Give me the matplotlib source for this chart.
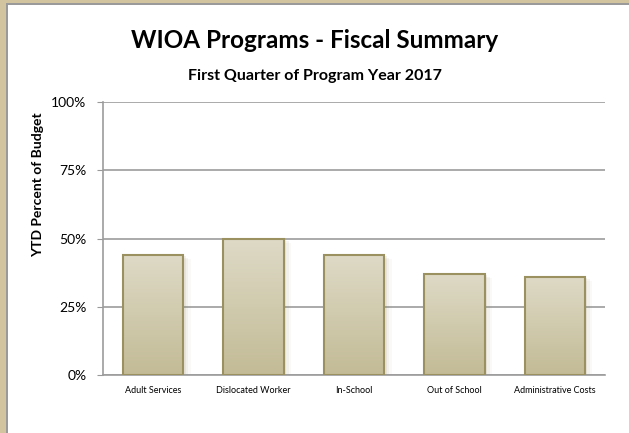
import numpy as np
import matplotlib.pyplot as plt
from matplotlib.patches import Rectangle
from matplotlib.colors import LinearSegmentedColormap

# Chart data
programs = ['Adult Services', 'Dislocated Worker', 'In-School', 'Out of School', 'Administrative Costs']
pct_budget = [44, 50, 44, 37, 36]
y_ticks = [0, 25, 50, 75, 100]

plt.rcParams['font.family'] = ['Lato', 'DejaVu Sans']

fig = plt.figure(figsize=(6.29, 4.33), dpi=100)
fig.patch.set_facecolor('white')

# tan frame on the left and top edges
fig.patches.append(Rectangle((0, 0), 6 / 629, 1, transform=fig.transFigure,
                             facecolor='#d3c4a0', edgecolor='none', zorder=0))
fig.patches.append(Rectangle((0, 1 - 3 / 433), 1, 3 / 433, transform=fig.transFigure,
                             facecolor='#d3c4a0', edgecolor='none', zorder=0))
fig.patches.append(Rectangle((6 / 629, 0), 1.5 / 629, 1 - 3 / 433, transform=fig.transFigure,
                             facecolor='#9a9a9a', edgecolor='none', zorder=0))
fig.patches.append(Rectangle((6 / 629, 1 - 4.5 / 433), 1, 1.5 / 433, transform=fig.transFigure,
                             facecolor='#9a9a9a', edgecolor='none', zorder=0))

ax = fig.add_axes([103 / 629, 58 / 433, 502 / 629, 273 / 433])

x = np.arange(len(programs))
bars = ax.bar(x, pct_budget, width=0.6, facecolor='none', edgecolor='#9b9060',
              linewidth=1.5, zorder=3)

# gradient fill inside each bar, plus a soft shadow
cmap = LinearSegmentedColormap.from_list('tan', ['#c3bb96', '#dedac6'])
grad = np.linspace(0, 1, 256).reshape(-1, 1)
for b in bars:
    x0, y0 = b.get_x(), b.get_y()
    w, h = b.get_width(), b.get_height()
    for i, a in enumerate([0.10, 0.07, 0.04]):
        off = 0.025 * (i + 1)
        ax.add_patch(Rectangle((x0 + off, y0), w, h - 0.5 * (i + 1), facecolor='#8a7d50',
                               alpha=a, edgecolor='none', zorder=2))
    im = ax.imshow(grad, extent=[x0, x0 + w, y0, y0 + h], origin='lower', cmap=cmap,
                   aspect='auto', zorder=2.5)
    im.set_clip_path(b)

ax.set_xlim(-0.5, len(programs) - 0.5)
ax.set_ylim(0, 100)
ax.set_yticks(y_ticks)
ax.set_yticklabels([f'{t}%' for t in y_ticks], fontsize=10)
ax.set_xticks(x)
ax.set_xticklabels(programs, fontsize=6.5)
ax.tick_params(axis='x', length=0, pad=8)
ax.tick_params(axis='y', length=4, color='#999999', pad=8)

ax.yaxis.grid(True, color='#9c9c9c', linewidth=1.2, zorder=1)
ax.set_axisbelow(True)
for s in ['top', 'right']:
    ax.spines[s].set_visible(False)
for s in ['left', 'bottom']:
    ax.spines[s].set_color('#9c9c9c')
    ax.spines[s].set_linewidth(1.2)

ax.set_ylabel('YTD Percent of Budget', fontsize=10, fontweight='bold')
ax.yaxis.set_label_coords(-0.1175, 0.696)

fig.text(0.5, 1 - 40 / 433, 'WIOA Programs - Fiscal Summary', ha='center', va='center',
         fontsize=17.5, fontweight='bold')
fig.text(0.5, 1 - 76 / 433, 'First Quarter of Program Year 2017', ha='center', va='center',
         fontsize=11.5, fontweight='bold')

fig.savefig('out.png', dpi=100)
